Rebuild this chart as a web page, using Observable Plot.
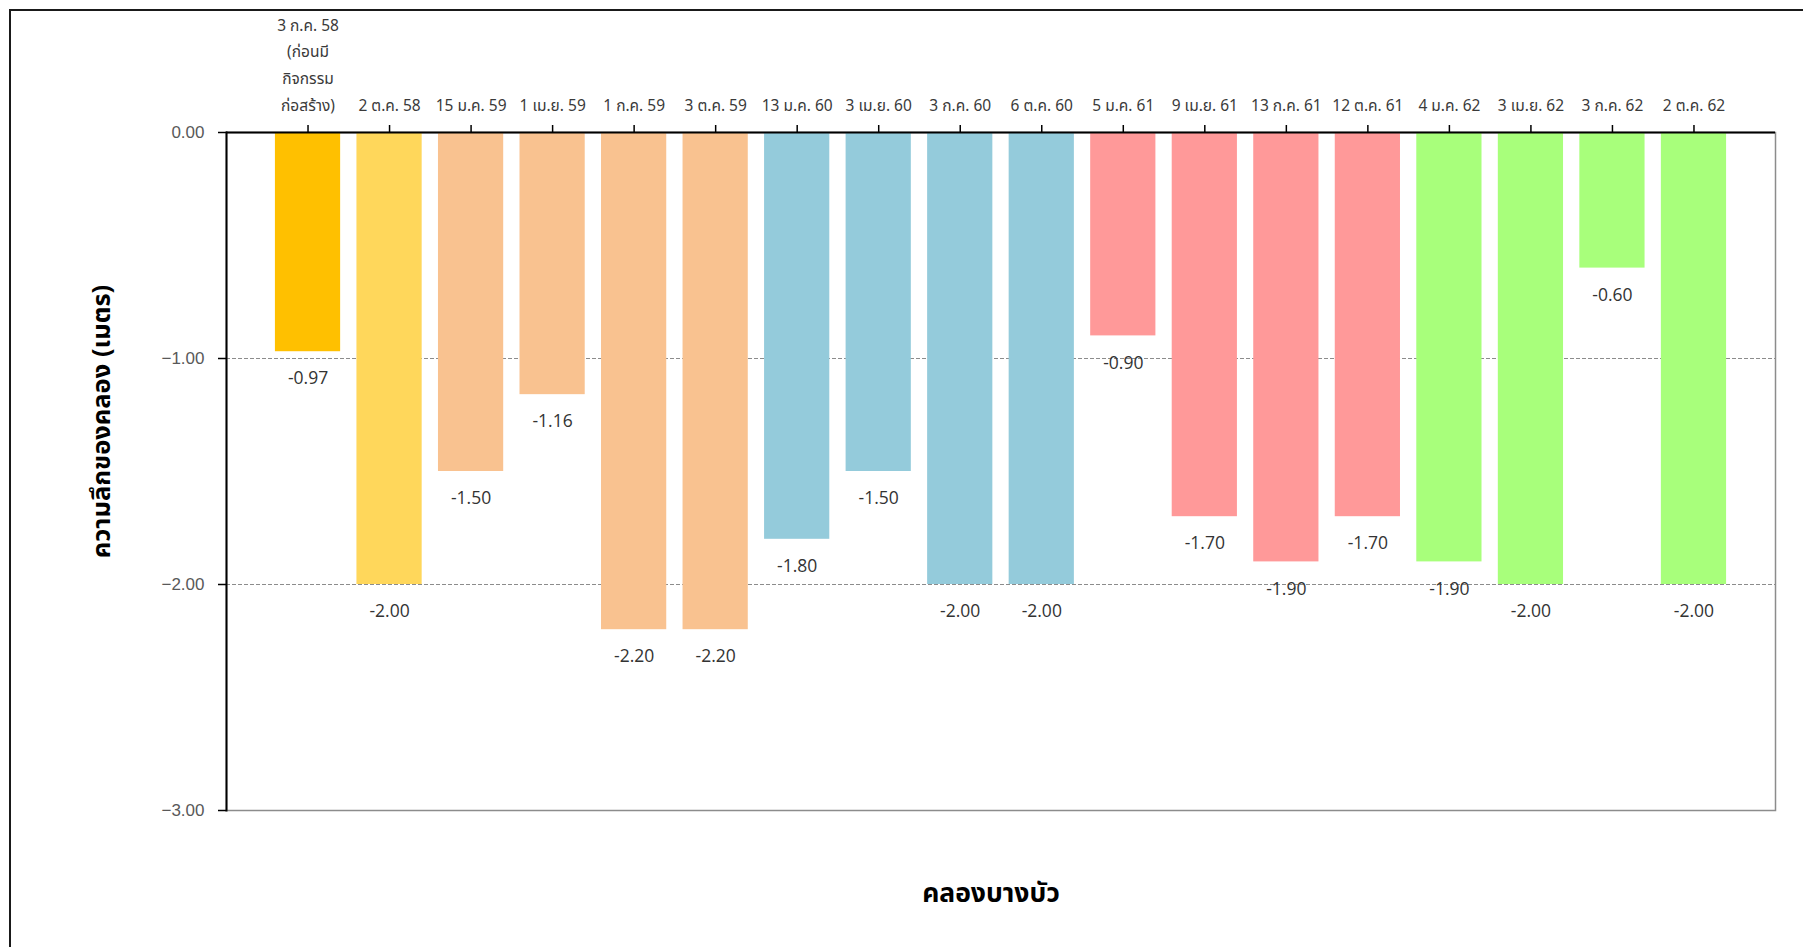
<!DOCTYPE html>
<html>
<head>
<meta charset="utf-8">
<script src="https://cdn.jsdelivr.net/npm/d3@7"></script>
<script src="https://cdn.jsdelivr.net/npm/@observablehq/plot@0.6"></script>
<style>
  html, body { margin: 0; padding: 0; background: #fff; overflow: hidden; }
  #wrap { position: relative; width: 1803px; height: 947px; }
  #border { position: absolute; left: 9px; top: 9px; width: 2200px; height: 2200px; border: 2px solid #1a1a1a; box-sizing: border-box; pointer-events: none; }
  #chart { position: absolute; left: 0; top: 0; }
</style>
</head>
<body>
<div id="wrap"><div id="border"></div><div id="chart"></div></div>
<script>
const categories = [
  "3 ก.ค. 58\n(ก่อนมี\nกิจกรรม\nก่อสร้าง)",
  "2 ต.ค. 58", "15 ม.ค. 59", "1 เม.ย. 59", "1 ก.ค. 59", "3 ต.ค. 59",
  "13 ม.ค. 60", "3 เม.ย. 60", "3 ก.ค. 60", "6 ต.ค. 60",
  "5 ม.ค. 61", "9 เม.ย. 61", "13 ก.ค. 61", "12 ต.ค. 61",
  "4 ม.ค. 62", "3 เม.ย. 62", "3 ก.ค. 62", "2 ต.ค. 62"
];
const depths = [-0.97, -2.00, -1.50, -1.16, -2.20, -2.20, -1.80, -1.50, -2.00, -2.00, -0.90, -1.70, -1.90, -1.70, -1.90, -2.00, -0.60, -2.00];
const groups = ["g0", "g58", "g59", "g59", "g59", "g59", "g60", "g60", "g60", "g60", "g61", "g61", "g61", "g61", "g62", "g62", "g62", "g62"];
const groupNames = ["g0", "g58", "g59", "g60", "g61", "g62"];
const groupColors = ["#FFC000", "#FFD75B", "#F9C290", "#94CBDB", "#FF9999", "#A8FF7B"];
const yTicks = [0, -1, -2, -3];
const gridLines = [-1, -2, -3];
const yTitle = "ความลึกของคลอง (เมตร)";
const xTitle = "คลองบางบัว";

const data = categories.map((c, i) => ({cat: c, depth: depths[i], group: groups[i]}));
const thaiFont = "Tahoma, 'Noto Sans Thai', 'Noto Sans', 'DejaVu Sans', sans-serif";

const chart = Plot.plot({
  width: 1803,
  height: 947,
  marginTop: 132,
  marginBottom: 137,
  marginLeft: 226,
  marginRight: 28,
  style: {fontFamily: thaiFont, background: "transparent"},
  x: {domain: categories, paddingInner: 0.2, paddingOuter: 0.6, round: false, axis: null},
  y: {domain: [-3, 0], axis: null},
  color: {domain: groupNames, range: groupColors},
  marks: [
    Plot.frame({stroke: "#8c8c8c", strokeWidth: 1.5}),
    Plot.ruleY(gridLines, {stroke: "#8c8c8c", strokeWidth: 1.2, strokeDasharray: "4,2"}),
    Plot.barY(data, {x: "cat", y: "depth", fill: "group"}),
    Plot.ruleY([0], {stroke: "#000", strokeWidth: 2}),
    Plot.frame({anchor: "left", stroke: "#000", strokeWidth: 2}),
    Plot.axisY({
      ticks: yTicks, tickSize: 8, tickPadding: 14, tickFormat: d3.format(".2f"),
      fontFamily: "'Liberation Sans', Arial, sans-serif", fontSize: 17, color: "#595959",
      stroke: "#000", strokeWidth: 1.5, label: null
    }),
    Plot.axisX({
      anchor: "top", tickSize: 8, tickPadding: 14, fontSize: 15.5, lineHeight: 1.72,
      fill: "#3a3a3a", stroke: "#000", strokeWidth: 1.5, label: null
    }),
    Plot.text(data, {
      x: "cat", y: "depth", text: d => d.depth.toFixed(2), dy: 27,
      fontFamily: "'Open Sans', 'Noto Sans', sans-serif", fontSize: 17.5, fill: "#333"
    }),
    Plot.text([yTitle], {
      frameAnchor: "left", textAnchor: "middle", lineAnchor: "middle", rotate: -90, dx: -125, dy: -50,
      fontSize: 25.5, fontWeight: "bold", fill: "#000"
    }),
    Plot.text([xTitle], {
      frameAnchor: "bottom", textAnchor: "middle", lineAnchor: "middle", dx: -10, dy: 83,
      fontSize: 26.5, fontWeight: "bold", fill: "#000"
    })
  ]
});
document.getElementById("chart").appendChild(chart);
</script>
</body>
</html>
